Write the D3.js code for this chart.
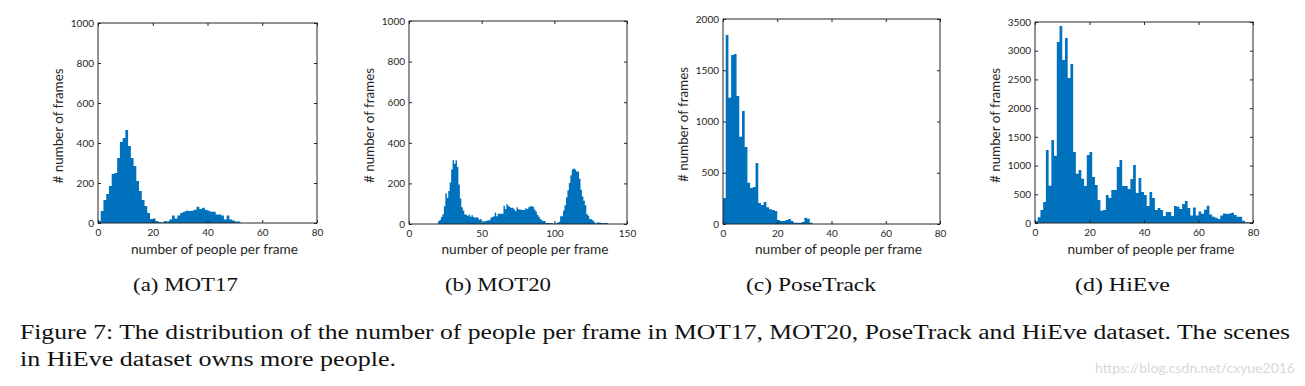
<!DOCTYPE html>
<html lang="en">
<head>
<meta charset="utf-8">
<title>Number of people per frame</title>
<script src="https://d3js.org/d3.v7.min.js"></script>
<style>
  body { margin: 0; background: #fff; }
  .tick text { font-family: Lato, "Open Sans", sans-serif; font-size: 10px; fill: #262626; }
  .tick line { stroke: #262626; }
</style>
</head>
<body>
<div id="chart"></div>
<script>
// histogram counts, one bin per number of people, first bin at *Start
const mot17Start = 0;
const mot17Counts = [10, 60, 115, 145, 185, 245, 250, 325, 405, 425, 465, 385, 325, 285, 210, 160, 115, 85, 50, 20,
  22, 10, 5, 3, 10, 7, 17, 37, 23, 37, 50, 56, 61, 60, 61, 66, 81, 70, 76, 66,
  61, 56, 56, 43, 43, 37, 17, 37, 17, 13, 8, 7];

const mot20Start = 20;
const mot20Counts = [13, 21, 34, 48, 87, 151, 128, 163, 205, 269, 314, 297, 314, 281, 195, 126, 82, 67, 48, 44,
  41, 46, 36, 43, 34, 31, 33, 31, 21, 25, 5, 13, 13, 16, 18, 18, 31, 34, 38, 57,
  38, 51, 51, 51, 51, 90, 74, 97, 90, 84, 79, 80, 71, 64, 82, 73, 72, 70, 69, 69,
  77, 74, 82, 87, 87, 85, 72, 62, 46, 36, 25, 18, 15, 15, 5, 5, 5, 5, 5, 0,
  0, 5, 8, 11, 38, 38, 67, 92, 130, 166, 202, 240, 269, 274, 269, 259, 259, 223, 169, 136,
  115, 92, 48, 41, 25, 23, 18, 10, 2, 8, 8, 8, 5, 5, 5, 5, 5];

const poseStart = 0;
const poseCounts = [253, 1843, 1232, 1648, 1658, 1248, 852, 1102, 751, 403, 351, 361, 595, 205, 185, 215, 163, 143, 137, 127,
  39, 29, 29, 39, 49, 29, 13, 13, 13, 20, 62, 52, 13];

const hieveStart = 0;
const hieveCounts = [30, 100, 226, 366, 1272, 650, 1446, 1173, 3153, 3432, 2840, 3223, 2526, 2770, 1237, 859, 923, 772, 645, 1185,
  1237, 801, 662, 401, 215, 226, 488, 436, 575, 575, 976, 1098, 645, 645, 592, 767, 1010, 523, 784, 540,
  488, 296, 540, 436, 226, 261, 226, 122, 192, 192, 122, 296, 285, 244, 330, 385, 260, 130, 270, 130,
  200, 160, 230, 300, 150, 110, 90, 70, 130, 165, 155, 165, 180, 140, 110, 110, 40, 15, 15, 15];

// axis limits and tick values
const xMax = [80, 150, 80, 80];
const yMax = [1000, 1000, 2000, 3500];
const xTicks = [[0, 20, 40, 60, 80], [0, 50, 100, 150], [0, 20, 40, 60, 80], [0, 20, 40, 60, 80]];
const yTicks = [d3.range(0, 1001, 200), d3.range(0, 1001, 200), d3.range(0, 2001, 500), d3.range(0, 3501, 500)];

const xLabel = "number of people per frame";
const yLabel = "# number of frames";
const subCaptions = ["(a) MOT17", "(b) MOT20", "(c) PoseTrack", "(d) HiEve"];
const figCaption = [
  "Figure 7: The distribution of the number of people per frame in MOT17, MOT20, PoseTrack and HiEve dataset. The scenes",
  "in HiEve dataset owns more people."
];
const watermark = "https://blog.csdn.net/cxyue2016";

const width = 1305, height = 386;
const blue = "#0072BD", axisColor = "#262626";

// where each panel sits on the page
const boxes = [
  { left: 98, right: 317, top: 23, bottom: 223, capX: 185.5, capW: 105 },
  { left: 409, right: 627, top: 21, bottom: 224, capX: 498, capW: 106 },
  { left: 723, right: 940, top: 19, bottom: 224, capX: 811, capW: 130 },
  { left: 1035, right: 1253, top: 22, bottom: 223, capX: 1122.5, capW: 95 }
];
const series = [
  { start: mot17Start, counts: mot17Counts },
  { start: mot20Start, counts: mot20Counts },
  { start: poseStart, counts: poseCounts },
  { start: hieveStart, counts: hieveCounts }
];

const svg = d3.select("#chart").append("svg")
  .attr("width", width)
  .attr("height", height);

boxes.forEach(function (b, i) {
  const s = series[i];
  const x = d3.scaleLinear().domain([0, xMax[i]]).range([b.left, b.right]);
  const y = d3.scaleLinear().domain([0, yMax[i]]).range([b.bottom, b.top]);
  const g = svg.append("g");

  // bin edges with the count of the bin that starts there; last edge closes the final bar
  const bins = s.counts.map((c, k) => ({ bin: s.start + k, count: c }));
  bins.push({ bin: s.start + s.counts.length, count: s.counts[s.counts.length - 1] });

  // one stepped area per panel, so neighbouring bars show no seams
  const area = d3.area()
    .curve(d3.curveStepAfter)
    .x(d => x(d.bin))
    .y0(y(0))
    .y1(d => y(d.count));
  g.append("path")
    .datum(bins)
    .attr("d", area)
    .attr("fill", blue);

  // inward ticks on all four sides, like a boxed matlab axes
  g.append("g")
    .attr("transform", `translate(0,${b.bottom})`)
    .call(d3.axisBottom(x).tickValues(xTicks[i]).tickFormat(d3.format("d")).tickSizeInner(-3).tickSizeOuter(0).tickPadding(6));
  g.append("g")
    .attr("transform", `translate(0,${b.top})`)
    .call(d3.axisTop(x).tickValues(xTicks[i]).tickSizeInner(-3).tickSizeOuter(0).tickFormat(""));
  g.append("g")
    .attr("transform", `translate(${b.left},0)`)
    .call(d3.axisLeft(y).tickValues(yTicks[i]).tickFormat(d3.format("d")).tickSizeInner(-3).tickSizeOuter(0).tickPadding(4));
  g.append("g")
    .attr("transform", `translate(${b.right},0)`)
    .call(d3.axisRight(y).tickValues(yTicks[i]).tickSizeInner(-3).tickSizeOuter(0).tickFormat(""));
  g.selectAll(".domain").remove();

  g.append("rect")
    .attr("x", b.left)
    .attr("y", b.top)
    .attr("width", b.right - b.left)
    .attr("height", b.bottom - b.top)
    .attr("fill", "none")
    .attr("stroke", axisColor)
    .attr("stroke-width", 1);

  g.append("text")
    .attr("x", (b.left + b.right) / 2 + 7)
    .attr("y", 254)
    .attr("text-anchor", "middle")
    .attr("textLength", 167)
    .attr("lengthAdjust", "spacingAndGlyphs")
    .style("font-family", "Lato, 'Open Sans', sans-serif")
    .style("font-size", "13px")
    .style("fill", axisColor)
    .text(xLabel);

  const ly = (b.top + b.bottom) / 2 + 3;
  g.append("text")
    .attr("transform", `translate(${b.left - 35},${ly}) rotate(-90)`)
    .attr("text-anchor", "middle")
    .attr("textLength", 115)
    .attr("lengthAdjust", "spacingAndGlyphs")
    .style("font-family", "Lato, 'Open Sans', sans-serif")
    .style("font-size", "13px")
    .style("fill", axisColor)
    .text(yLabel);

  svg.append("text")
    .attr("x", b.capX)
    .attr("y", 291)
    .attr("text-anchor", "middle")
    .attr("textLength", b.capW)
    .attr("lengthAdjust", "spacingAndGlyphs")
    .style("font-family", "'Liberation Serif', serif")
    .style("font-size", "19px")
    .style("fill", "#111")
    .text(subCaptions[i]);
});

// figure caption under the panels
svg.append("text")
  .attr("x", 20).attr("y", 339)
  .attr("textLength", 1270)
  .attr("lengthAdjust", "spacingAndGlyphs")
  .style("font-family", "'Liberation Serif', serif")
  .style("font-size", "20px")
  .style("fill", "#111")
  .text(figCaption[0]);
svg.append("text")
  .attr("x", 20).attr("y", 366)
  .attr("textLength", 376)
  .attr("lengthAdjust", "spacingAndGlyphs")
  .style("font-family", "'Liberation Serif', serif")
  .style("font-size", "20px")
  .style("fill", "#111")
  .text(figCaption[1]);

svg.append("text")
  .attr("x", 1295).attr("y", 373)
  .attr("text-anchor", "end")
  .style("font-family", "Lato, sans-serif")
  .style("font-size", "14px")
  .style("fill", "#d8d8d8")
  .text(watermark);
</script>
</body>
</html>
